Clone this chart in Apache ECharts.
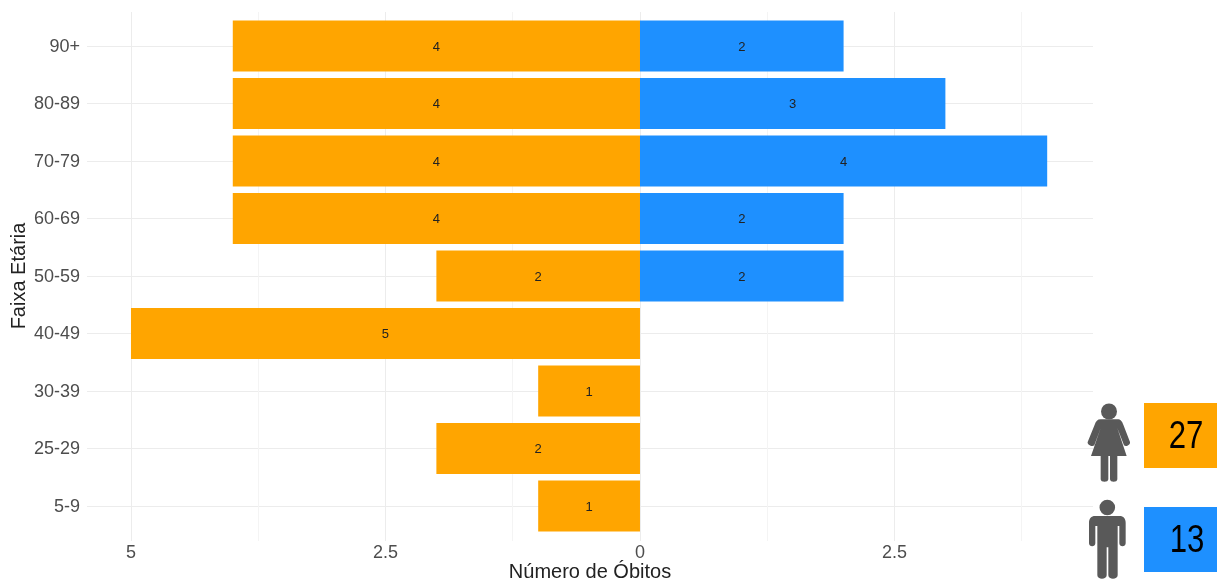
<!DOCTYPE html>
<html><head><meta charset="utf-8">
<style>html,body{margin:0;padding:0;background:#fff}#c{width:1217px;height:582px}</style>
<script src="https://cdn.jsdelivr.net/npm/echarts@6/dist/echarts.min.js"></script>
</head><body><div id="c"></div>
<script>
const categories = ['90+','80-89','70-79','60-69','50-59','40-49','30-39','25-29','5-9'];
const femaleValues = [4,4,4,4,2,5,1,2,1];
const maleValues = [2,3,4,2,2,0,0,0,0];
const majorTicks = [-5,-2.5,0,2.5];
const minorTicks = [-3.75,-1.25,1.25,3.75];
const femaleTotal = '27';
const maleTotal = '13';
const xMin = -5.432, xMax = 4.45;
const FONT = '"Liberation Sans", Arial, sans-serif';
const femaleIcon = 'M122 88H172C182 88 186 94 190 104L210 156C212 164 198 172 192 166L172 114L200 198H172V268C172 278 150 278 150 268V198H145V268C145 278 122 278 122 268V198H93L122 114L103 166C97 172 81 164 83 156L104 104C108 94 112 88 122 88Z';
const maleIcon = 'M105 378H179C190 378 197 386 197 398V460C197 472 178 472 178 460V408H173V556C173 570 145 570 145 556V472H140V556C140 570 112 570 112 556V408H106V460C106 472 87 472 87 460V398C87 386 94 378 105 378Z';
echarts.graphic.registerShape('femaleBody', echarts.graphic.extendPath(femaleIcon, {}));
echarts.graphic.registerShape('maleBody', echarts.graphic.extendPath(maleIcon, {}));

const option = {
  animation: false,
  backgroundColor: '#fff',
  textStyle: {fontFamily: FONT},
  grid: [
    {left: 87, right: 1217-1093, top: 12, height: 529, outerBoundsMode: 'none'},
    {left: 87, right: 1217-1093, top: 46, height: 460, outerBoundsMode: 'none'}
  ],
  xAxis: [
    {gridIndex: 0, type: 'value', min: xMin, max: xMax,
     axisLine: {show: false},
     axisTick: {show: false, customValues: majorTicks},
     axisLabel: {customValues: majorTicks, color: '#4d4d4d', fontSize: 18, margin: 3,
       formatter: v => String(Math.abs(v))},
     splitLine: {show: true, lineStyle: {color: '#ececec', width: 1}},
     name: 'Número de Óbitos', nameLocation: 'middle', nameGap: 21, nameMoveOverlap: false,
     nameTextStyle: {color: '#222', fontSize: 20, fontFamily: FONT}},
    {gridIndex: 0, type: 'value', min: xMin, max: xMax,
     axisLine: {show: false},
     axisTick: {show: false, customValues: minorTicks},
     axisLabel: {show: false},
     splitLine: {show: true, lineStyle: {color: '#f4f4f4', width: 1}}},
    {gridIndex: 1, type: 'value', min: xMin, max: xMax, show: false,
     splitLine: {show: false}}
  ],
  yAxis: [
    {gridIndex: 0, type: 'category', data: categories, show: false},
    {gridIndex: 1, type: 'category', data: categories, inverse: true, boundaryGap: false,
     axisLine: {show: false}, axisTick: {show: false},
     axisLabel: {color: '#4d4d4d', fontSize: 18, margin: 7,
       formatter: v => '{a|' + v + '}',
       rich: {a: {color: '#4d4d4d', fontSize: 18, fontFamily: FONT, padding: [2,0,0,0]}}},
     splitLine: {show: true, lineStyle: {color: '#ececec', width: 1}},
     name: 'Faixa Etária', nameLocation: 'middle', nameGap: 58, nameMoveOverlap: false,
     nameTextStyle: {color: '#222', fontSize: 20, fontFamily: FONT}}
  ],
  series: [
    {type: 'bar', name: 'Feminino', xAxisIndex: 2, yAxisIndex: 1, stack: 'f', clip: false,
     barWidth: 51, data: femaleValues.map(v => -v),
     itemStyle: {color: '#ffa500'},
     label: {show: true, position: 'inside', color: '#222', fontSize: 13, offset: [0,1],
       formatter: p => String(Math.abs(p.value))}},
    {type: 'bar', name: 'Masculino', xAxisIndex: 2, yAxisIndex: 1, stack: 'f', clip: false,
     barWidth: 51, data: maleValues.map(v => v === 0 ? null : v),
     itemStyle: {color: '#1e90ff'},
     label: {show: true, position: 'inside', color: '#222', fontSize: 13, offset: [0,1]}}
  ],
  graphic: [
    {type: 'circle', shape: {cx: 1109, cy: 411.5, r: 8}, style: {fill: '#595959'}},
    {type: 'femaleBody', x: 1060, y: 390, scaleX: 1/3, scaleY: 1/3, style: {fill: '#595959'}},
    {type: 'circle', shape: {cx: 1107.3, cy: 507.5, r: 7.8}, style: {fill: '#595959'}},
    {type: 'maleBody', x: 1060, y: 390, scaleX: 1/3, scaleY: 1/3, style: {fill: '#595959'}},
    {type: 'rect', shape: {x: 1144, y: 403, width: 73, height: 65}, style: {fill: '#ffa500'}},
    {type: 'rect', shape: {x: 1144, y: 507, width: 73, height: 65}, style: {fill: '#1e90ff'}},
    {type: 'text', x: 1186, y: 438, scaleX: 0.82, originX: 0, style: {text: femaleTotal, fill: '#000', font: '38px ' + FONT, textAlign: 'center', textVerticalAlign: 'middle'}},
    {type: 'text', x: 1187, y: 542, scaleX: 0.82, originX: 0, style: {text: maleTotal, fill: '#000', font: '38px ' + FONT, textAlign: 'center', textVerticalAlign: 'middle'}}
  ]
};
echarts.init(document.getElementById('c'), null, {renderer: 'canvas'}).setOption(option);
</script></body></html>
